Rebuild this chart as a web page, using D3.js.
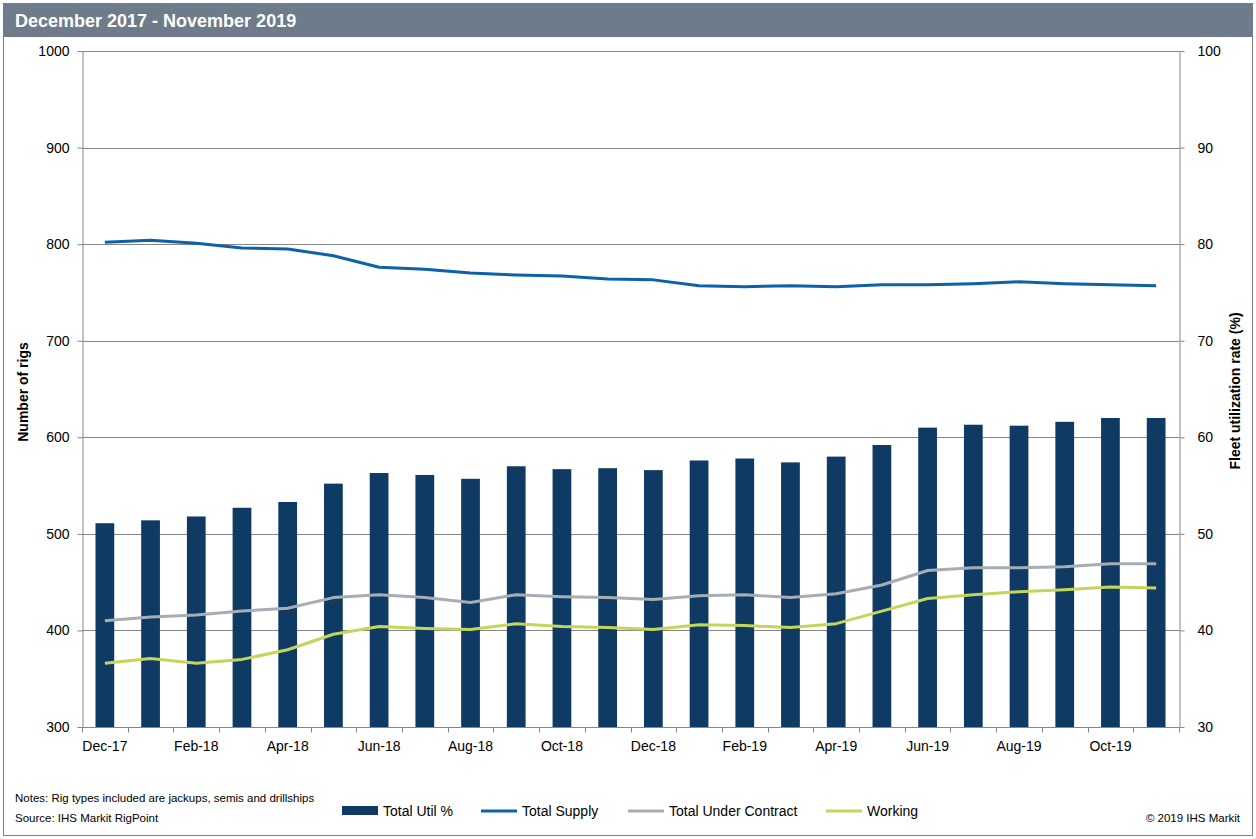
<!DOCTYPE html>
<html>
<head>
<meta charset="utf-8">
<script src="https://cdn.jsdelivr.net/npm/d3@7"></script>
<style>
  body { margin: 0; background: #fff; }
  text { font-family: "Liberation Sans", Arial, sans-serif; }
</style>
</head>
<body>
<div id="chart"></div>
<script>
'use strict'

const months = ['Dec-17', 'Jan-18', 'Feb-18', 'Mar-18', 'Apr-18', 'May-18', 'Jun-18', 'Jul-18',
  'Aug-18', 'Sep-18', 'Oct-18', 'Nov-18', 'Dec-18', 'Jan-19', 'Feb-19', 'Mar-19', 'Apr-19',
  'May-19', 'Jun-19', 'Jul-19', 'Aug-19', 'Sep-19', 'Oct-19', 'Nov-19']
const utilPct = [51.1, 51.4, 51.8, 52.7, 53.3, 55.2, 56.3, 56.1, 55.7, 57.0, 56.7, 56.8,
  56.6, 57.6, 57.8, 57.4, 58.0, 59.2, 61.0, 61.3, 61.2, 61.6, 62.0, 62.0]
const totalSupply = [802, 804, 801, 796, 795, 788, 776, 774, 770, 768, 767, 764,
  763, 757, 756, 757, 756, 758, 758, 759, 761, 759, 758, 757]
const underContract = [410, 414, 416, 420, 423, 434, 437, 434, 429, 437, 435, 434,
  432, 436, 437, 434, 438, 447, 462, 465, 465, 466, 469, 469]
const working = [366, 371, 366, 370, 380, 396, 404, 402, 401, 407, 404, 403,
  401, 406, 405, 403, 407, 420, 433, 437, 440, 442, 445, 444]
const leftTicks = [300, 400, 500, 600, 700, 800, 900, 1000]
const rightTicks = [30, 40, 50, 60, 70, 80, 90, 100]

const W = 1256
const H = 839
const plot = { left: 82, right: 1179, top: 51, bottom: 727 }

const svg = d3.select('#chart').append('svg')
  .attr('width', W)
  .attr('height', H)

// frame + header
svg.append('rect')
  .attr('x', 3.5).attr('y', 3.5)
  .attr('width', W - 7).attr('height', H - 7)
  .attr('fill', '#fff').attr('stroke', '#7f7f7f')
svg.append('rect')
  .attr('x', 3).attr('y', 3)
  .attr('width', W - 6).attr('height', 34)
  .attr('fill', '#6e7b8b')
svg.append('text')
  .attr('x', 15).attr('y', 27)
  .attr('fill', '#fff')
  .attr('font-size', 18).attr('font-weight', 'bold')
  .text('December 2017 - November 2019')

const x = d3.scaleBand()
  .domain(months)
  .range([plot.left, plot.right])
  .paddingInner(0.59)
  .paddingOuter(0.295)

const xb = d3.scaleBand().domain(months).range([plot.left, plot.right])

const yL = d3.scaleLinear().domain([300, 1000]).range([plot.bottom, plot.top])
const yR = d3.scaleLinear().domain([30, 100]).range([plot.bottom, plot.top])

// gridlines
svg.append('g')
  .selectAll('line')
  .data(leftTicks.slice(1))
  .enter().append('line')
  .attr('x1', plot.left).attr('x2', plot.right)
  .attr('y1', d => Math.round(yL(d)) + 0.5).attr('y2', d => Math.round(yL(d)) + 0.5)
  .attr('stroke', '#868686')

// bars
svg.append('g')
  .selectAll('rect')
  .data(utilPct)
  .enter().append('rect')
  .attr('x', (d, i) => x(months[i]))
  .attr('width', x.bandwidth())
  .attr('y', d => yR(d))
  .attr('height', d => plot.bottom - yR(d))
  .attr('fill', '#0f3a63')

// lines
const line = scale => d3.line()
  .x((d, i) => xb(months[i]) + xb.bandwidth() / 2)
  .y(d => scale(d))

const series = [
  { data: underContract, color: '#a7adb4' },
  { data: working, color: '#c3d65b' },
  { data: totalSupply, color: '#0b62a9' }
]
series.forEach(function (s) {
  svg.append('path')
    .datum(s.data)
    .attr('d', line(yL))
    .attr('fill', 'none')
    .attr('stroke', s.color)
    .attr('stroke-width', 3)
    .attr('stroke-linejoin', 'round')
})

// axes
const axisStyle = function (g) {
  g.select('.domain').attr('stroke', '#868686')
  g.selectAll('.tick line').attr('stroke', '#868686')
  g.selectAll('.tick text')
    .attr('fill', '#000')
    .attr('font-size', 14)
    .attr('font-family', '"Liberation Sans", Arial, sans-serif')
}

svg.append('g')
  .attr('transform', 'translate(' + (plot.left + 0.5) + ',0)')
  .call(d3.axisLeft(yL).tickValues(leftTicks).tickFormat(d3.format('d'))
    .tickSize(5).tickPadding(8).tickSizeOuter(0))
  .call(axisStyle)

svg.append('g')
  .attr('transform', 'translate(' + (plot.right + 0.5) + ',0)')
  .call(d3.axisRight(yR).tickValues(rightTicks).tickFormat(d3.format('d'))
    .tickSize(5).tickPadding(13).tickSizeOuter(0))
  .call(axisStyle)

// x axis: ticks on band boundaries, labels every other month
const xAxis = svg.append('g')
  .attr('transform', 'translate(0,' + (plot.bottom + 0.5) + ')')
xAxis.append('line')
  .attr('x1', plot.left).attr('x2', plot.right)
  .attr('stroke', '#868686')
xAxis.selectAll('line.tk')
  .data(months.concat(['end']))
  .enter().append('line')
  .attr('class', 'tk')
  .attr('x1', (d, i) => Math.round(plot.left + i * xb.step()) + 0.5)
  .attr('x2', (d, i) => Math.round(plot.left + i * xb.step()) + 0.5)
  .attr('y1', 0).attr('y2', 5)
  .attr('stroke', '#868686')
xAxis.selectAll('text')
  .data(months.filter((d, i) => i % 2 === 0))
  .enter().append('text')
  .attr('x', d => xb(d) + xb.bandwidth() / 2)
  .attr('y', 23)
  .attr('text-anchor', 'middle')
  .attr('font-size', 14)
  .text(d => d)

// axis titles
svg.append('text')
  .attr('transform', 'translate(28,' + ((plot.top + plot.bottom) / 2 + 3) + ') rotate(-90)')
  .attr('text-anchor', 'middle')
  .attr('font-size', 14).attr('font-weight', 'bold')
  .text('Number of rigs')
svg.append('text')
  .attr('transform', 'translate(1240,' + ((plot.top + plot.bottom) / 2 + 2) + ') rotate(-90)')
  .attr('text-anchor', 'middle')
  .attr('font-size', 14).attr('font-weight', 'bold')
  .text('Fleet utilization rate (%)')

// legend
const legend = [
  { name: 'Total Util %', color: '#0f3a63', x: 342, type: 'rect' },
  { name: 'Total Supply', color: '#0b62a9', x: 481, type: 'line' },
  { name: 'Total Under Contract', color: '#a7adb4', x: 628, type: 'line' },
  { name: 'Working', color: '#c3d65b', x: 826, type: 'line' }
]
const lg = svg.append('g')
legend.forEach(function (l) {
  if (l.type === 'rect') {
    lg.append('rect')
      .attr('x', l.x).attr('y', 806)
      .attr('width', 36).attr('height', 9)
      .attr('fill', l.color)
  } else {
    lg.append('line')
      .attr('x1', l.x).attr('x2', l.x + 36)
      .attr('y1', 811).attr('y2', 811)
      .attr('stroke', l.color).attr('stroke-width', 3)
  }
  lg.append('text')
    .attr('x', l.x + 41).attr('y', 816)
    .attr('font-size', 14)
    .text(l.name)
})

// notes
svg.append('text')
  .attr('x', 15).attr('y', 802)
  .attr('font-size', 11.5)
  .text('Notes: Rig types included are jackups, semis and drillships')
svg.append('text')
  .attr('x', 15).attr('y', 822)
  .attr('font-size', 11.5)
  .text('Source: IHS Markit RigPoint')
svg.append('text')
  .attr('x', 1240).attr('y', 822)
  .attr('text-anchor', 'end')
  .attr('font-size', 11.5)
  .text('\u00a9 2019 IHS Markit')
</script>
</body>
</html>
